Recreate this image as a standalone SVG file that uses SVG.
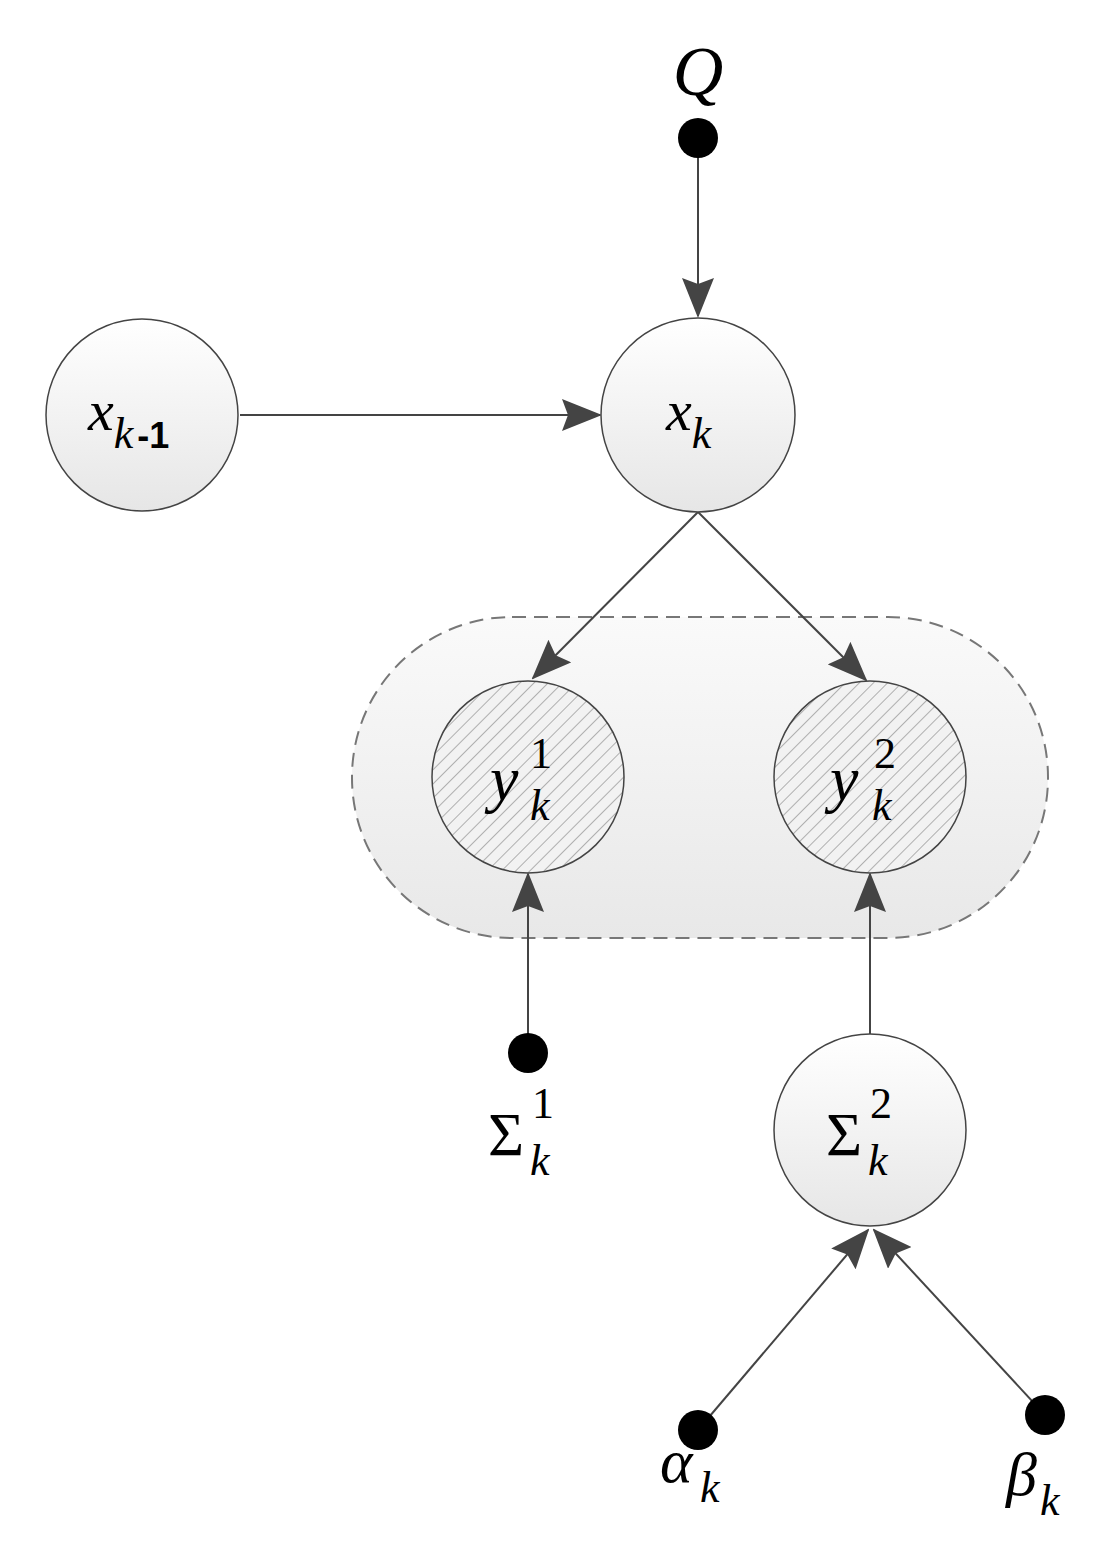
<svg xmlns="http://www.w3.org/2000/svg" width="1107" height="1553" viewBox="0 0 1107 1553">
<style>
.n{stroke:#444;stroke-width:1.5;fill:url(#g)}
.h{stroke:#444;stroke-width:1.5;fill:url(#hat)}
.e{stroke:#444;stroke-width:2;fill:none}
.t{font-family:"Liberation Serif","Times New Roman","DejaVu Serif",serif;font-style:italic;fill:#000}
.r{font-family:"Liberation Serif","Times New Roman","DejaVu Serif",serif;fill:#000}
.d{fill:#000}
</style>
<defs>
<linearGradient id="g" x1="0" y1="0" x2="0" y2="1"><stop offset="0" stop-color="#fff"/><stop offset="1" stop-color="#e6e6e6"/></linearGradient>
<linearGradient id="gg" x1="0" y1="0" x2="0" y2="1"><stop offset="0" stop-color="#fafafa"/><stop offset="1" stop-color="#e8e8e8"/></linearGradient>
<pattern id="hat" width="10" height="10" patternUnits="userSpaceOnUse" patternTransform="rotate(45)"><rect width="10" height="10" fill="#f2f2f2"/><line x1="0" y1="0" x2="0" y2="10" stroke="#999" stroke-width="1.5"/></pattern>
<marker id="a" viewBox="0 0 40 32" refX="38" refY="16" markerWidth="40" markerHeight="32" orient="auto" markerUnits="userSpaceOnUse"><path d="M0,0 L40,16 L0,32 L6,16 Z" fill="#444"/></marker>
</defs>
<rect x="352" y="617" width="696" height="321" rx="160" fill="url(#gg)" stroke="#777" stroke-width="2" stroke-dasharray="14 8"/>
<g id="connectors">
<line class="e" x1="698" y1="138" x2="698" y2="316" marker-end="url(#a)"/>
<line class="e" x1="240" y1="415" x2="600" y2="415" marker-end="url(#a)"/>
<line class="e" x1="698" y1="512" x2="533" y2="678" marker-end="url(#a)"/>
<line class="e" x1="698" y1="512" x2="866" y2="680" marker-end="url(#a)"/>
<line class="e" x1="528" y1="1053" x2="528" y2="874" marker-end="url(#a)"/>
<line class="e" x1="870" y1="1034" x2="870" y2="874" marker-end="url(#a)"/>
<line class="e" x1="698" y1="1430" x2="868" y2="1230" marker-end="url(#a)"/>
<line class="e" x1="1045" y1="1415" x2="874" y2="1230" marker-end="url(#a)"/>
</g>
<g id="Q"><circle class="d" cx="698" cy="138" r="20"/><text class="t" x="698" y="95" font-size="70" text-anchor="middle">Q</text></g>
<g id="xkm1"><circle class="n" cx="142" cy="415" r="96"/><text class="t" x="88" y="430" font-size="58">x<tspan font-size="44" dy="18">k</tspan><tspan font-style="normal" font-family="Liberation Sans,sans-serif" font-size="36" font-weight="bold" dx="4">-1</tspan></text></g>
<g id="xk"><circle class="n" cx="698" cy="415" r="97"/><text class="t" x="666" y="430" font-size="58">x<tspan font-size="44" dy="18">k</tspan></text></g>
<g id="y1"><circle class="h" cx="528" cy="777" r="96"/><text class="t" x="490" y="800" font-size="64">y</text><text class="t" x="530" y="820" font-size="44">k</text><text class="r" x="530" y="768" font-size="44">1</text></g>
<g id="y2"><circle class="h" cx="870" cy="777" r="96"/><text class="t" x="830" y="800" font-size="64">y</text><text class="t" x="872" y="820" font-size="44">k</text><text class="r" x="874" y="768" font-size="44">2</text></g>
<g id="S1"><circle class="d" cx="528" cy="1053" r="20"/><text class="r" x="488" y="1155" font-size="62">Σ</text><text class="t" x="530" y="1175" font-size="44">k</text><text class="r" x="532" y="1118" font-size="44">1</text></g>
<g id="S2"><circle class="n" cx="870" cy="1130" r="96"/><text class="r" x="826" y="1155" font-size="62">Σ</text><text class="t" x="868" y="1175" font-size="44">k</text><text class="r" x="870" y="1118" font-size="44">2</text></g>
<g id="alpha"><circle class="d" cx="698" cy="1430" r="20"/><text class="t" x="660" y="1482" font-size="62">α</text><text class="t" x="700" y="1502" font-size="44">k</text></g>
<g id="beta"><circle class="d" cx="1045" cy="1415" r="20"/><text class="t" x="1006" y="1495" font-size="62">β</text><text class="t" x="1040" y="1515" font-size="44">k</text></g>
</svg>
